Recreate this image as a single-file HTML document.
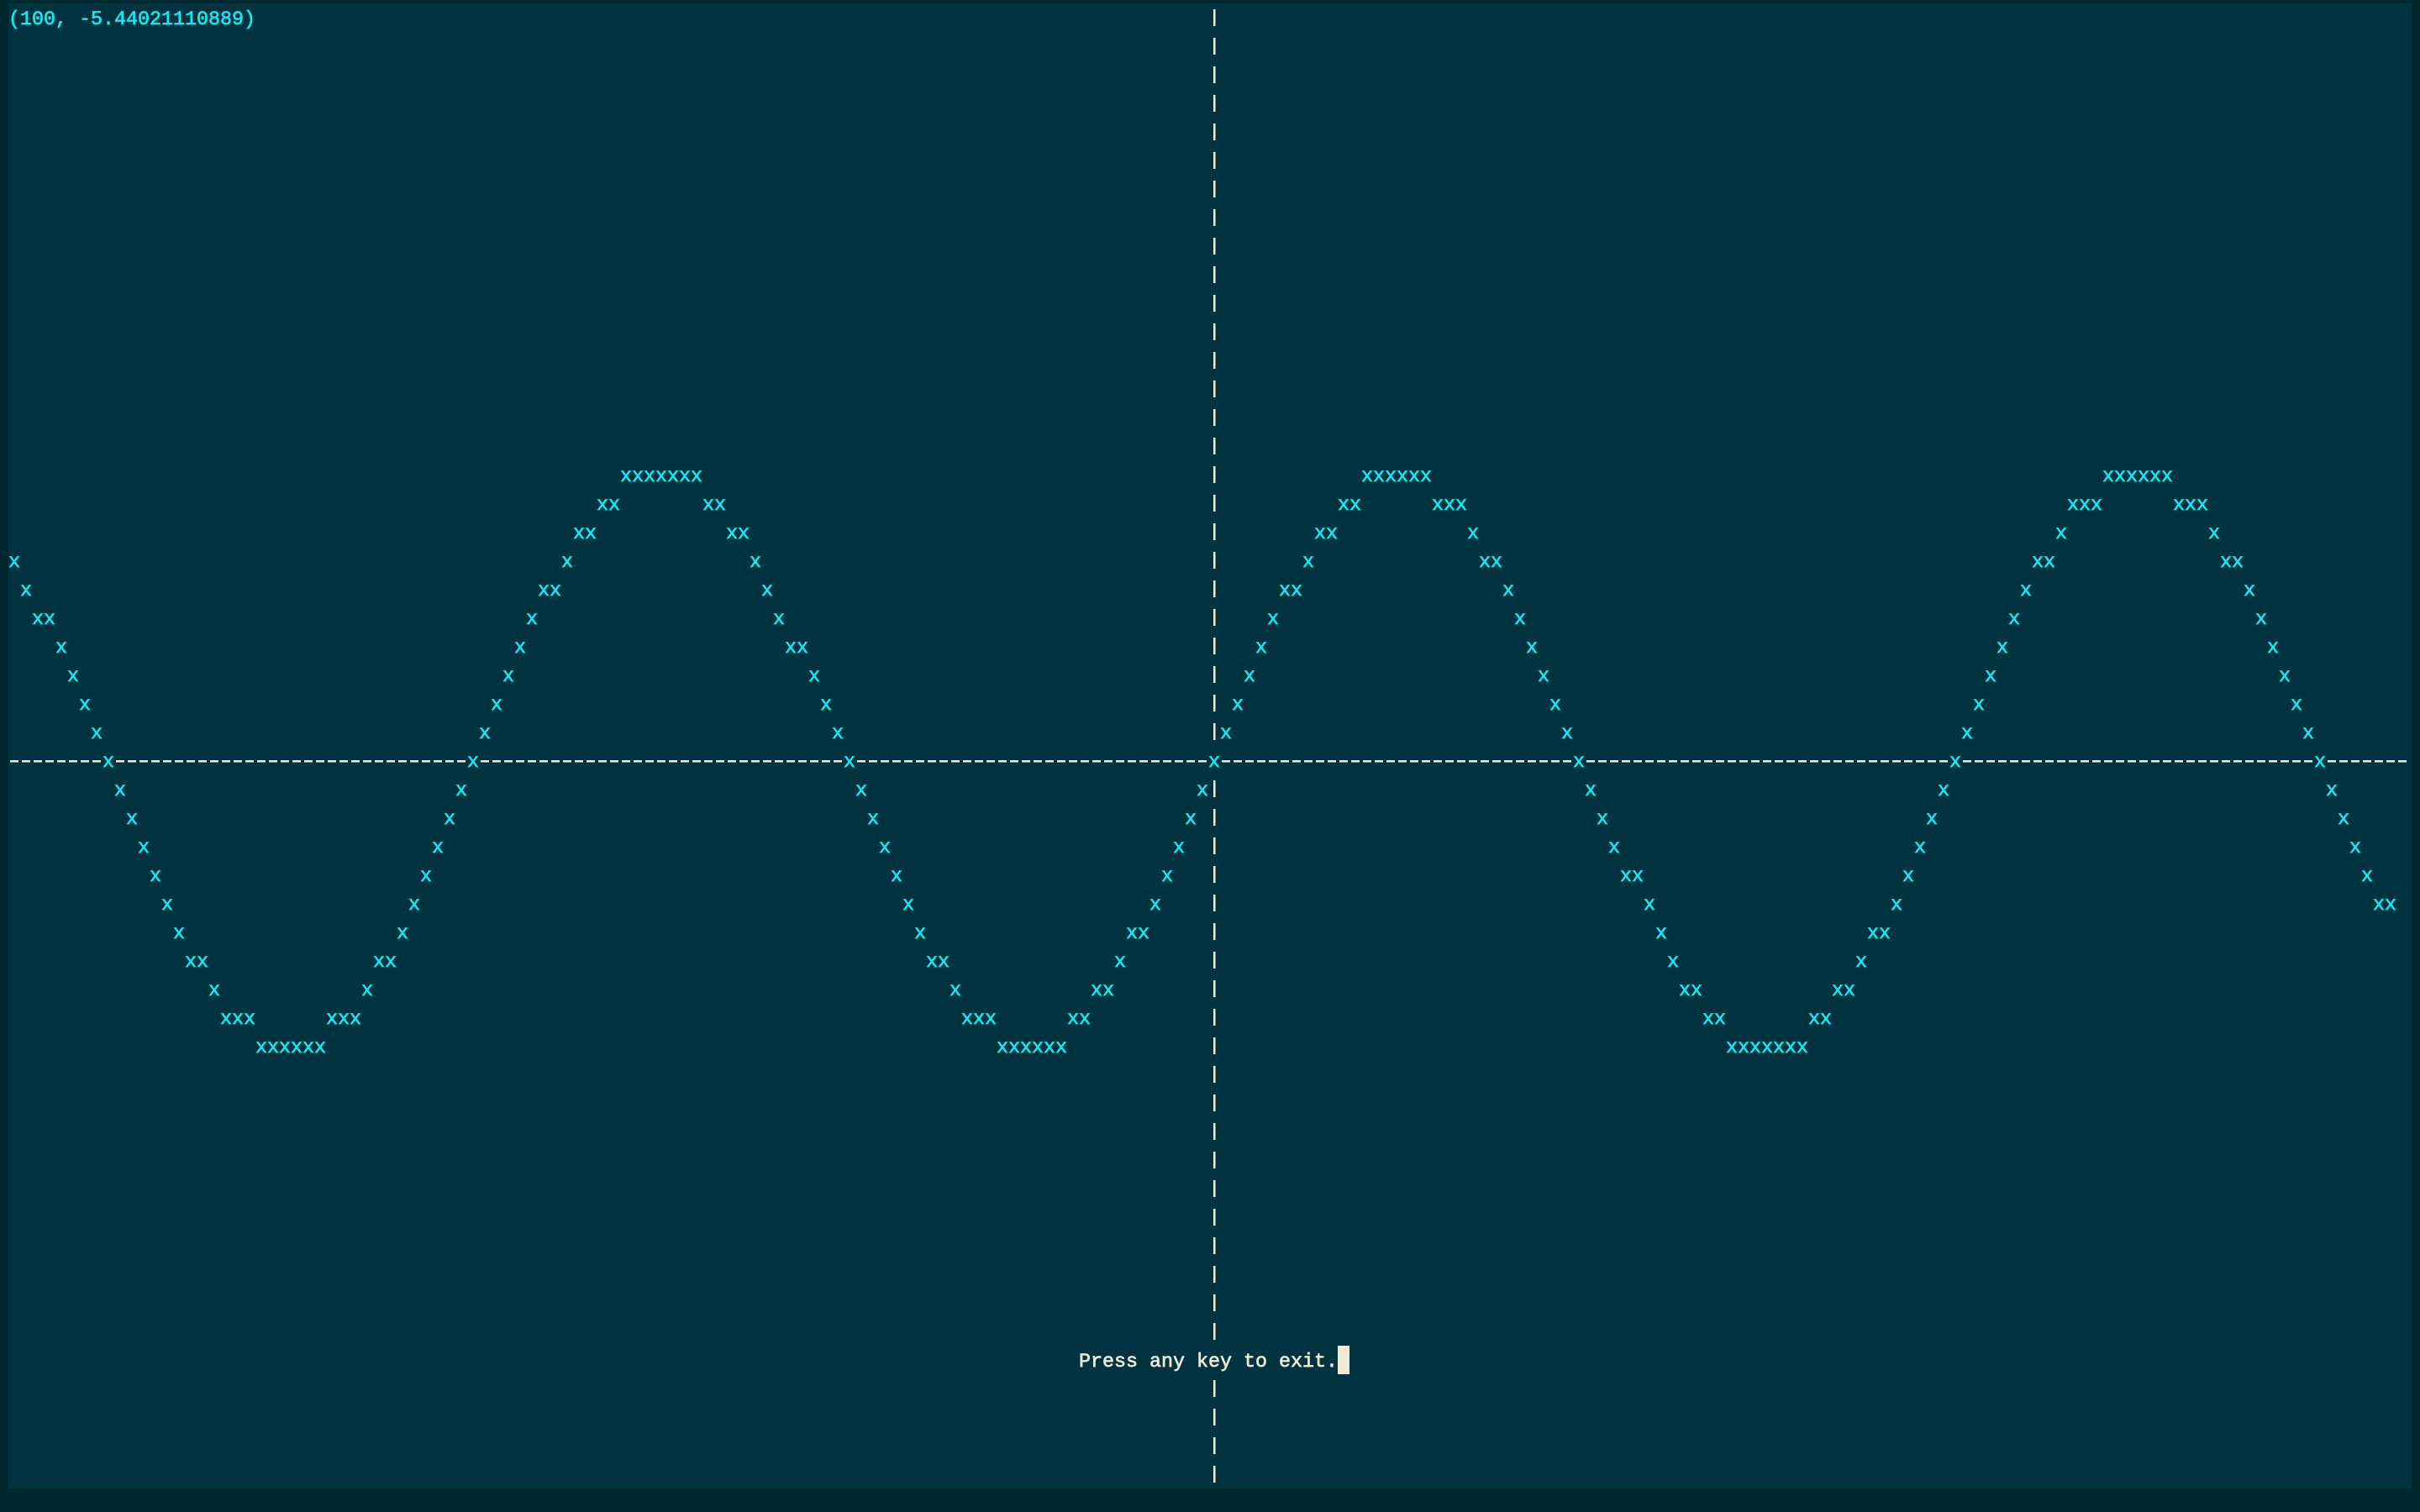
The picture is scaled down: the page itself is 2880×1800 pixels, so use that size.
<!DOCTYPE html>
<html><head><meta charset="utf-8"><style>
html,body{margin:0;padding:0;background:#00262f;}
svg{display:block;}
text{font-family:"Liberation Mono","DejaVu Sans Mono",monospace;font-size:23.33px;stroke-width:0.7px;}
</style></head><body>
<svg id="chart" width="2880" height="1800" viewBox="0 0 2880 1800" xmlns="http://www.w3.org/2000/svg">
<rect x="0" y="0" width="2880" height="1800" fill="#00262f"/>
<rect x="10" y="4" width="2860" height="1768" fill="#013440"/>
<g id="axes"></g>
<g id="points"></g>
<text x="10" y="29" fill="#16e6ee" stroke="#16e6ee">(100, -5.44021110889)</text>
<text x="1284" y="1627" fill="#eee8d5" stroke="#eee8d5">Press any key to exit.</text>
<rect x="1592" y="1602" width="14" height="34" fill="#eee8d5"/>
</svg>
<script>
// data: x values start at xStart, one per column; y values (rounded) per x
const xStart = -102;
const yValues = [
7,6,5,5,4,3,2,1,0,-1,-2,-3,-4,-5,-6,-7,-7,-8,-9,-9,-9,-10,-10,-10,-10,-10,-10,-9,-9,-9,-8,-7,-7,-6,-5,-4,-3,-2,-1,0,
1,2,3,4,5,6,6,7,8,8,9,9,10,10,10,10,10,10,10,9,9,8,8,7,6,5,4,4,3,2,1,0,-1,-2,-3,-4,-5,-6,-7,-7,-8,-9,-9,-9,
-10,-10,-10,-10,-10,-10,-9,-9,-8,-8,-7,-6,-6,-5,-4,-3,-2,-1,
0,1,2,3,4,5,6,6,7,8,8,9,9,10,10,10,10,10,10,9,9,9,8,7,7,6,5,4,3,2,1,0,-1,-2,-3,-4,-4,-5,-6,-7,-8,-8,-9,-9,
-10,-10,-10,-10,-10,-10,-10,-9,-9,-8,-8,-7,-6,-6,-5,-4,-3,-2,-1,0,1,2,3,4,5,6,7,7,8,9,9,9,10,10,10,10,10,10,
9,9,9,8,7,7,6,5,4,3,2,1,0,-1,-2,-3,-4,-5,-5
];
const NS = "http://www.w3.org/2000/svg";
const CW = 14, RH = 34, X0 = 10, Y0 = 4, COLS = 204, ROWS = 52;
const AXIS_ROW = 26, AXIS_COL = 102;
function colOf(x){ return x - xStart; }
function rowOf(y){ return AXIS_ROW - y; }
const occupied = new Set();
const pts = document.getElementById('points');
yValues.forEach(function(y, i){
  const x = xStart + i;
  const c = colOf(x), r = rowOf(y);
  occupied.add(r + ',' + c);
  const t = document.createElementNS(NS, 'text');
  t.setAttribute('x', X0 + c * CW);
  t.setAttribute('y', Y0 + r * RH + 25);
  t.setAttribute('fill', '#16e6ee');
  t.setAttribute('stroke', '#16e6ee');
  t.textContent = 'x';
  
  
  pts.appendChild(t);
});
const axes = document.getElementById('axes');
for (let c = 0; c < COLS; c++) {
  if (occupied.has(AXIS_ROW + ',' + c)) continue;
  const l = document.createElementNS(NS, 'rect');
  l.setAttribute('x', X0 + c * CW + 2);
  l.setAttribute('y', Y0 + AXIS_ROW * RH + 17);
  l.setAttribute('width', 10);
  l.setAttribute('height', 2.5);
  l.setAttribute('fill', '#eee8d5');
  
  
  axes.appendChild(l);
}
for (let r = 0; r < ROWS; r++) {
  if (r === 47 || occupied.has(r + ',' + AXIS_COL)) continue;
  const l = document.createElementNS(NS, 'rect');
  l.setAttribute('x', X0 + AXIS_COL * CW + 6);
  l.setAttribute('y', Y0 + r * RH + 7);
  l.setAttribute('width', 2.5);
  l.setAttribute('height', 20);
  l.setAttribute('fill', '#eee8d5');
  
  
  axes.appendChild(l);
}
</script>
</body></html>
